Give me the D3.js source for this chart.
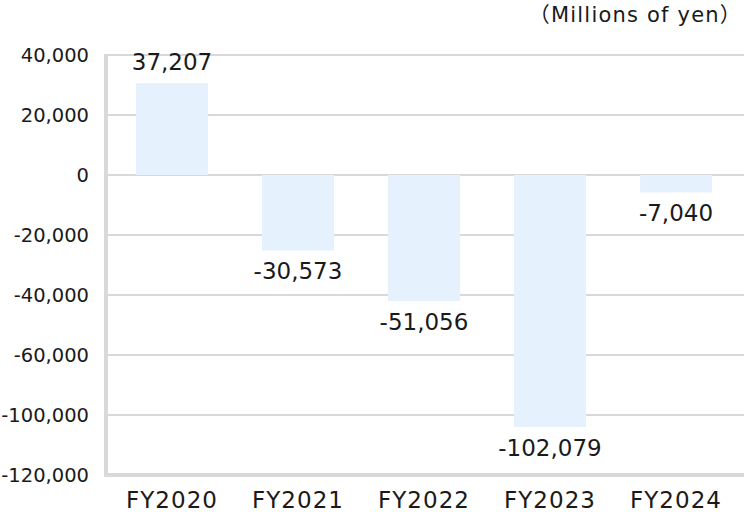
<!DOCTYPE html>
<html>
<head>
<meta charset="utf-8">
<script src="https://cdn.jsdelivr.net/npm/d3@7"></script>
<style>
  html, body { margin: 0; padding: 0; background: #fff; }
  svg { display: block; }
  text { font-family: "DejaVu Sans", "Noto Sans CJK JP", sans-serif; fill: #1a1a1a; }
</style>
</head>
<body>
<svg id="chart" width="744" height="512"></svg>
<script>
// ---- data ----
const categories = ["FY2020", "FY2021", "FY2022", "FY2023", "FY2024"];
const values = [37207, -30573, -51056, -102079, -7040];
const valueLabels = ["37,207", "-30,573", "-51,056", "-102,079", "-7,040"];
const tickLabels = ["40,000", "20,000", "0", "-20,000", "-40,000", "-60,000", "-100,000", "-120,000"];
const unitLabel = "（Millions of yen）";

// ---- layout ----
const svg = d3.select("#chart");
const plotTop = 55, plotBottom = 475, axisX = 106;
const tickStep = 24300; // data units between gridlines as drawn in the original
const nAbove = 2;       // gridlines above zero
const y = d3.scaleLinear()
  .domain([-(tickLabels.length - 1 - nAbove) * tickStep, nAbove * tickStep])
  .range([plotBottom, plotTop]);
const x = d3.scaleBand()
  .domain(categories)
  .range([109, 739])
  .paddingInner(0.4286)
  .paddingOuter(0.2143);

const tickVals = tickLabels.map((d, i) => (nAbove - i) * tickStep);

// gridlines
svg.append("g")
  .selectAll("line")
  .data(tickVals.slice(0, -1))
  .join("line")
  .attr("x1", axisX + 2).attr("x2", 744)
  .attr("y1", d => y(d)).attr("y2", d => y(d))
  .attr("stroke", "#d9d9d9").attr("stroke-width", 2);

// bars
svg.append("g")
  .selectAll("rect")
  .data(values)
  .join("rect")
  .attr("x", (d, i) => x(categories[i]))
  .attr("width", x.bandwidth())
  .attr("y", d => y(Math.max(0, d)))
  .attr("height", d => Math.abs(y(d) - y(0)))
  .attr("fill", "#e5f2fd");

// axes lines
svg.append("line")
  .attr("x1", axisX).attr("x2", axisX)
  .attr("y1", plotTop - 1).attr("y2", plotBottom + 2)
  .attr("stroke", "#d9d9d9").attr("stroke-width", 4);
svg.append("line")
  .attr("x1", axisX - 2).attr("x2", 744)
  .attr("y1", plotBottom).attr("y2", plotBottom)
  .attr("stroke", "#d9d9d9").attr("stroke-width", 4);

// y tick labels
svg.append("g")
  .selectAll("text")
  .data(tickVals)
  .join("text")
  .attr("x", 89)
  .attr("y", d => y(d))
  .attr("dy", "0.36em")
  .attr("text-anchor", "end")
  .attr("font-size", 19.5)
  .text((d, i) => tickLabels[i]);

// value labels
svg.append("g")
  .selectAll("text")
  .data(values)
  .join("text")
  .attr("x", (d, i) => x(categories[i]) + x.bandwidth() / 2)
  .attr("y", d => d >= 0 ? y(d) - 13 : y(d) + 29)
  .attr("text-anchor", "middle")
  .attr("font-size", 23)
  .text((d, i) => valueLabels[i]);

// category labels
svg.append("g")
  .selectAll("text")
  .data(categories)
  .join("text")
  .attr("x", d => x(d) + x.bandwidth() / 2)
  .attr("y", 508)
  .attr("text-anchor", "middle")
  .attr("font-size", 23)
  .attr("letter-spacing", 1)
  .text(d => d);

// unit label
svg.append("text")
  .attr("x", 742)
  .attr("y", 22)
  .attr("text-anchor", "end")
  .attr("font-size", 21)
  .attr("letter-spacing", 1.2)
  .text(unitLabel);
</script>
</body>
</html>
